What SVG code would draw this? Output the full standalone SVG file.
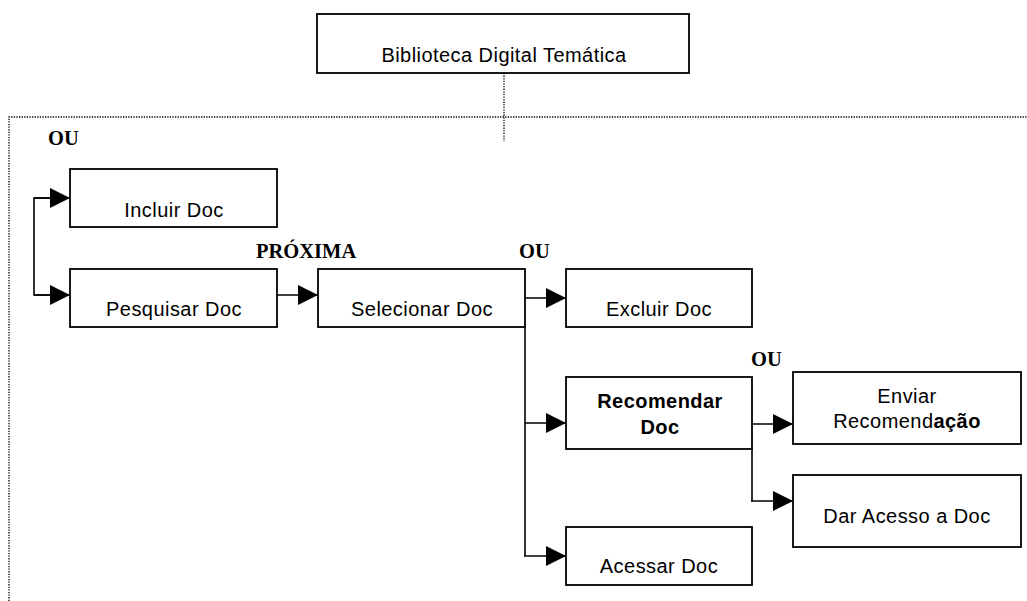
<svg xmlns="http://www.w3.org/2000/svg" width="1027" height="601" viewBox="0 0 1027 601">
<defs>
<marker id="ah" markerUnits="userSpaceOnUse" markerWidth="20" markerHeight="20" refX="20" refY="10" orient="auto">
<path d="M0,0 L20,10 L0,20 Z" fill="#000"/>
</marker>
<style>
.box{fill:#fff;stroke:#000;stroke-width:1.8}
.t{font-family:"Liberation Sans",Arial,sans-serif;font-size:20px;letter-spacing:0.45px;text-anchor:middle;fill:#000}
.b{font-weight:bold}
.lbl{font-family:"Liberation Serif","Times New Roman",serif;font-size:20.5px;font-weight:bold;fill:#000}
.dot{fill:none;stroke:#000;stroke-width:1.3;stroke-dasharray:1.3 1.3}
.c{fill:none;stroke:#000;stroke-width:1.6}
</style>
</defs>
<rect width="1027" height="601" fill="#fff"/>
<g id="frame">
<path class="dot" d="M504,73 V141"/>
<path class="dot" d="M9,601 V117 H1027"/>
</g>
<g id="connectors">
<path class="c" d="M50,198 H34 V295 H50"/>
<path class="c" d="M34,198 H70" marker-end="url(#ah)"/>
<path class="c" d="M34,295 H70" marker-end="url(#ah)"/>
<path class="c" d="M277,295 H318" marker-end="url(#ah)"/>
<path class="c" d="M525,327 V556"/>
<path class="c" d="M525,298 H566" marker-end="url(#ah)"/>
<path class="c" d="M525,423 H566" marker-end="url(#ah)"/>
<path class="c" d="M524,556 H566" marker-end="url(#ah)"/>
<path class="c" d="M752,449 V501"/>
<path class="c" d="M752,424 H793" marker-end="url(#ah)"/>
<path class="c" d="M751,501 H793" marker-end="url(#ah)"/>
</g>
<g id="labels">
<text class="lbl" x="48" y="145">OU</text>
<text class="lbl" x="256" y="258">PRÓXIMA</text>
<text class="lbl" x="519" y="258">OU</text>
<text class="lbl" x="751" y="366">OU</text>
</g>
<g id="n-biblioteca">
<rect class="box" x="317" y="14" width="372" height="59"/>
<text class="t" x="504" y="62">Biblioteca Digital Temática</text>
</g>
<g id="n-incluir">
<rect class="box" x="70" y="169" width="207" height="58"/>
<text class="t" x="174" y="217">Incluir Doc</text>
</g>
<g id="n-pesquisar">
<rect class="box" x="70" y="269" width="207" height="58"/>
<text class="t" x="174" y="316">Pesquisar Doc</text>
</g>
<g id="n-selecionar">
<rect class="box" x="318" y="269" width="207" height="58"/>
<text class="t" x="422" y="316">Selecionar Doc</text>
</g>
<g id="n-excluir">
<rect class="box" x="566" y="269" width="186" height="58"/>
<text class="t" x="659" y="316">Excluir Doc</text>
</g>
<g id="n-recomendar">
<rect class="box" x="566" y="377" width="186" height="72"/>
<text class="t b" x="660" y="408">Recomendar</text>
<text class="t b" x="660" y="434">Doc</text>
</g>
<g id="n-enviar">
<rect class="box" x="793" y="372" width="228" height="72"/>
<text class="t" x="907" y="403">Enviar</text>
<text class="t" x="907" y="428">Recomend<tspan class="b">ação</tspan></text>
</g>
<g id="n-daracesso">
<rect class="box" x="793" y="475" width="228" height="72"/>
<text class="t" x="907" y="523">Dar Acesso a Doc</text>
</g>
<g id="n-acessar">
<rect class="box" x="566" y="527" width="186" height="58"/>
<text class="t" x="659" y="573">Acessar Doc</text>
</g>
</svg>
